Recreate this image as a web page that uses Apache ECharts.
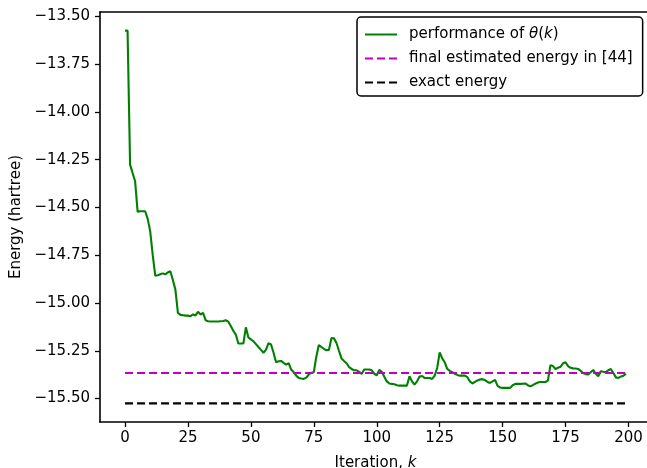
<!DOCTYPE html>
<html>
<head>
<meta charset="utf-8">
<script src="https://cdn.jsdelivr.net/npm/echarts@6/dist/echarts.min.js"></script>
<style>
html,body{margin:0;padding:0;background:#fff;}
#chart{width:647px;height:468px;}
</style>
</head>
<body>
<div id="chart"></div>
<script>
// ---- data ----
const iterations = Array.from({length: 200}, (_, i) => i);
const performance = [
  -13.575, -13.575, -14.276, -14.320, -14.363, -14.523, -14.520, -14.520, -14.520, -14.560,
  -14.625, -14.750, -14.857, -14.855, -14.850, -14.845, -14.850, -14.840, -14.834, -14.880,
  -14.930, -15.052, -15.062, -15.064, -15.066, -15.066, -15.069, -15.060, -15.065, -15.046,
  -15.060, -15.052, -15.090, -15.095, -15.097, -15.097, -15.097, -15.097, -15.095, -15.094,
  -15.090, -15.097, -15.120, -15.145, -15.165, -15.212, -15.212, -15.212, -15.127, -15.180,
  -15.190, -15.200, -15.215, -15.230, -15.245, -15.260, -15.244, -15.210, -15.217, -15.260,
  -15.310, -15.305, -15.303, -15.313, -15.322, -15.315, -15.348, -15.362, -15.380, -15.392,
  -15.395, -15.397, -15.390, -15.374, -15.365, -15.362, -15.280, -15.220, -15.230, -15.240,
  -15.247, -15.245, -15.183, -15.185, -15.209, -15.250, -15.290, -15.303, -15.315, -15.335,
  -15.345, -15.352, -15.352, -15.360, -15.371, -15.348, -15.348, -15.348, -15.352, -15.370,
  -15.378, -15.350, -15.360, -15.386, -15.410, -15.421, -15.423, -15.425, -15.430, -15.432,
  -15.432, -15.432, -15.432, -15.383, -15.410, -15.427, -15.410, -15.385, -15.382, -15.392,
  -15.392, -15.392, -15.397, -15.380, -15.340, -15.258, -15.290, -15.310, -15.345, -15.355,
  -15.362, -15.370, -15.376, -15.380, -15.380, -15.380, -15.388, -15.410, -15.421, -15.413,
  -15.405, -15.400, -15.398, -15.404, -15.413, -15.418, -15.410, -15.402, -15.434, -15.442,
  -15.444, -15.444, -15.444, -15.444, -15.430, -15.423, -15.423, -15.423, -15.422, -15.421,
  -15.430, -15.436, -15.430, -15.422, -15.416, -15.413, -15.413, -15.413, -15.406, -15.325,
  -15.330, -15.345, -15.339, -15.334, -15.315, -15.310, -15.330, -15.339, -15.342, -15.343,
  -15.345, -15.355, -15.366, -15.372, -15.374, -15.362, -15.350, -15.370, -15.383, -15.357,
  -15.360, -15.362, -15.352, -15.345, -15.366, -15.389, -15.392, -15.385, -15.380, -15.371
];
const finalEstimatedEnergy = -15.366;
const exactEnergy = -15.525;
const xTicks = [0, 25, 50, 75, 100, 125, 150, 175, 200];
const yTicks = [-15.50, -15.25, -15.00, -14.75, -14.50, -14.25, -14.00, -13.75, -13.50];
const seriesNames = ['performance of θ(k)', 'final estimated energy in [44]', 'exact energy'];

// ---- chart ----
const FONT = 'DejaVu Sans';
const FS = 15;
const kFirst = iterations[0], kLast = iterations[iterations.length - 1];
const perfData = iterations.map((k, i) => [k, performance[i]]);
const finalData = [[kFirst, finalEstimatedEnergy], [kLast, finalEstimatedEnergy]];
const exactData = [[kFirst, exactEnergy], [kLast, exactEnergy]];
const allY = performance.concat([finalEstimatedEnergy, exactEnergy]);
const yMinD = Math.min(...allY), yMaxD = Math.max(...allY);
const yPad = (yMaxD - yMinD) * 0.05;
const xPad = (kLast - kFirst) * 0.05;
const xMin = kFirst - xPad, xMax = kLast + xPad;
const fmtMinus = v => (v < 0 ? '\u2212' : '') + Math.abs(v).toFixed(2);
const italicRich = {
  i: { fontFamily: FONT, fontSize: FS, fontStyle: 'italic', color: '#000' },
  g: { width: 7 }
};

const chart = echarts.init(document.getElementById('chart'), null, {renderer: 'canvas'});
chart.setOption({
  animation: false,
  backgroundColor: '#ffffff',
  grid: { left: 100, top: 12, width: 551, bottom: 46, containLabel: false, outerBoundsMode: 'none', show: false },
  legend: {
    orient: 'vertical', left: 357, top: 17,
    itemWidth: 32, itemHeight: 14, itemGap: 9, padding: [10, 10, 6, 7],
    backgroundColor: '#fff', borderColor: '#000', borderWidth: 1.5, borderRadius: 4,
    data: seriesNames, itemStyle: { opacity: 0 },
    formatter: function (name) {
      if (name === seriesNames[0]) return '{g|}performance of {i|θ}({i|k})';
      return '{g|}' + name;
    },
    textStyle: { fontFamily: FONT, fontSize: FS, color: '#000', rich: italicRich }
  },
  xAxis: [
    {
      type: 'value', position: 'bottom', min: xMin, max: xMax,
      name: 'Iteration, {i|k}', nameLocation: 'middle', nameGap: 34,
      nameTextStyle: { fontFamily: FONT, fontSize: FS, color: '#000', rich: italicRich },
      splitLine: { show: false },
      axisLine: { show: true, onZero: false, lineStyle: { color: '#000', width: 1.6 } },
      axisTick: { show: true, inside: false, length: 5, customValues: xTicks, lineStyle: { color: '#000', width: 1.3 } },
      axisLabel: { customValues: xTicks, margin: 9, fontFamily: FONT, fontSize: FS, color: '#000', formatter: v => String(Math.round(v)) }
    },
    {
      type: 'value', position: 'top', min: xMin, max: xMax,
      splitLine: { show: false },
      axisLine: { show: true, onZero: false, lineStyle: { color: '#000', width: 1.6 } },
      axisTick: { show: false }, axisLabel: { show: false }
    }
  ],
  yAxis: {
    type: 'value', min: yMinD - yPad, max: yMaxD + yPad,
    name: 'Energy (hartree)', nameLocation: 'middle', nameGap: 71, nameRotate: 90,
    nameTextStyle: { fontFamily: FONT, fontSize: FS, color: '#000' },
    splitLine: { show: false },
    axisLine: { show: true, onZero: false, lineStyle: { color: '#000', width: 1.6 } },
    axisTick: { show: true, inside: false, length: 5, customValues: yTicks, lineStyle: { color: '#000', width: 1.3 } },
    axisLabel: { customValues: yTicks, margin: 10, fontFamily: FONT, fontSize: FS, color: '#000', formatter: v => fmtMinus(v) }
  },
  series: [
    { name: seriesNames[0], type: 'line', data: perfData, showSymbol: false, symbol: 'none', lineStyle: { color: '#008000', width: 2.1 }, itemStyle: { color: '#008000' } },
    { name: seriesNames[1], type: 'line', data: finalData, showSymbol: false, symbol: 'none', lineStyle: { color: '#bf00bf', width: 2.1, type: [8, 4] }, itemStyle: { color: '#bf00bf' } },
    { name: seriesNames[2], type: 'line', data: exactData, showSymbol: false, symbol: 'none', lineStyle: { color: '#000', width: 2.1, type: [8, 4] }, itemStyle: { color: '#000' } }
  ]
});
</script>
</body>
</html>
